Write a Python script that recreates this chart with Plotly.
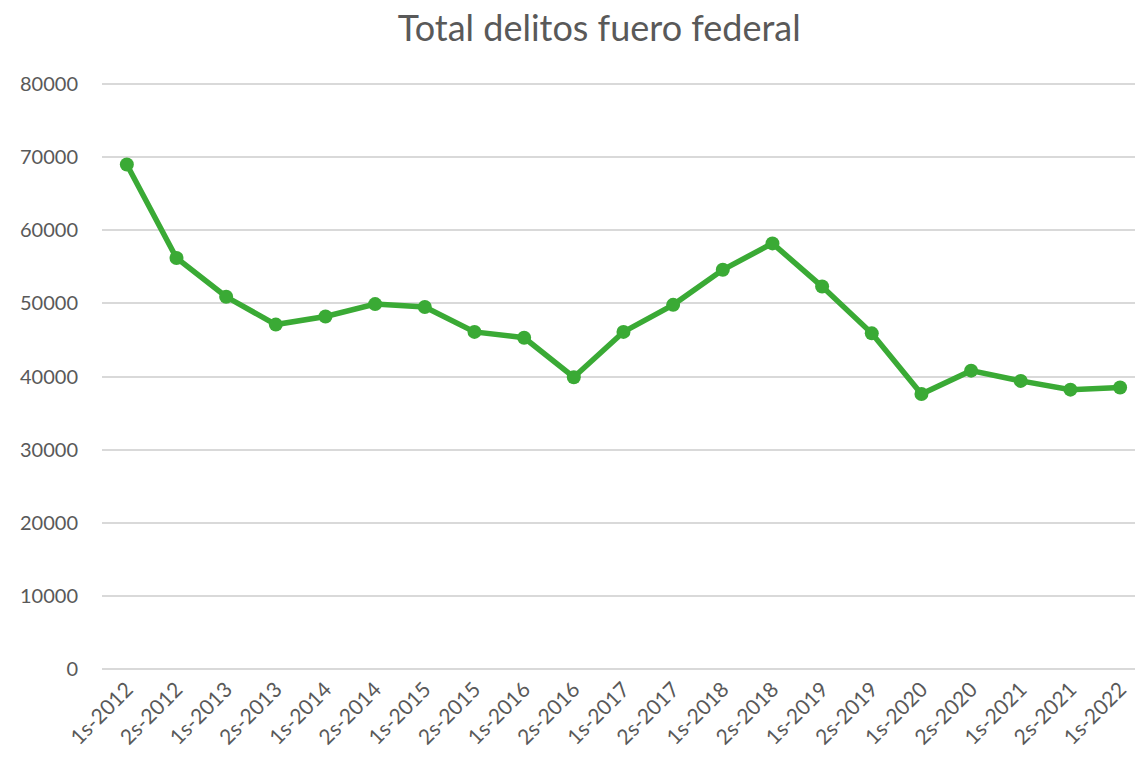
import plotly.graph_objects as go

# Semesters (1s = primer semestre, 2s = segundo semestre)
periodos = [
    "1s-2012", "2s-2012", "1s-2013", "2s-2013", "1s-2014", "2s-2014",
    "1s-2015", "2s-2015", "1s-2016", "2s-2016", "1s-2017", "2s-2017",
    "1s-2018", "2s-2018", "1s-2019", "2s-2019", "1s-2020", "2s-2020",
    "1s-2021", "2s-2021", "1s-2022",
]

# Total federal crimes per semester
total_delitos = [
    69000, 56200, 50900, 47100, 48200, 49900,
    49500, 46100, 45300, 39900, 46100, 49800,
    54600, 58200, 52300, 45900, 37600, 40800,
    39400, 38200, 38500,
]

y_ticks = [0, 10000, 20000, 30000, 40000, 50000, 60000, 70000, 80000]

GREEN = "#3aaa35"
TEXT = "#595959"
FONT = "Lato"

fig = go.Figure(
    go.Scatter(
        x=periodos,
        y=total_delitos,
        mode="lines+markers",
        line=dict(color=GREEN, width=5.5),
        marker=dict(color=GREEN, size=14),
        showlegend=False,
    )
)

# padding on the value range keeps the 0 and 80000 gridlines visible
fig.update_layout(
    width=1135,
    height=757,
    margin=dict(l=102, r=0, t=81, b=85),
    paper_bgcolor="white",
    plot_bgcolor="white",
    title=dict(
        text="Total delitos fuero federal",
        x=0.528,
        xanchor="center",
        y=0.963,
        yanchor="middle",
        font=dict(family=FONT, size=36, color=TEXT),
    ),
    xaxis=dict(
        type="category",
        range=[-0.5, 20.3],
        tickangle=-45,
        tickfont=dict(family=FONT, size=21, color=TEXT),
        showgrid=False,
        showline=False,
        ticks="",
        zeroline=False,
    ),
    yaxis=dict(
        range=[-410, 80410],
        tickvals=y_ticks,
        ticktext=[str(v) for v in y_ticks],
        tickfont=dict(family=FONT, size=20, color=TEXT),
        showgrid=True,
        gridcolor="#d9d9d9",
        gridwidth=2,
        zeroline=False,
        ticks="outside",
        ticklen=19,
        tickcolor="white",
    ),
)

fig.write_html("out.html")
